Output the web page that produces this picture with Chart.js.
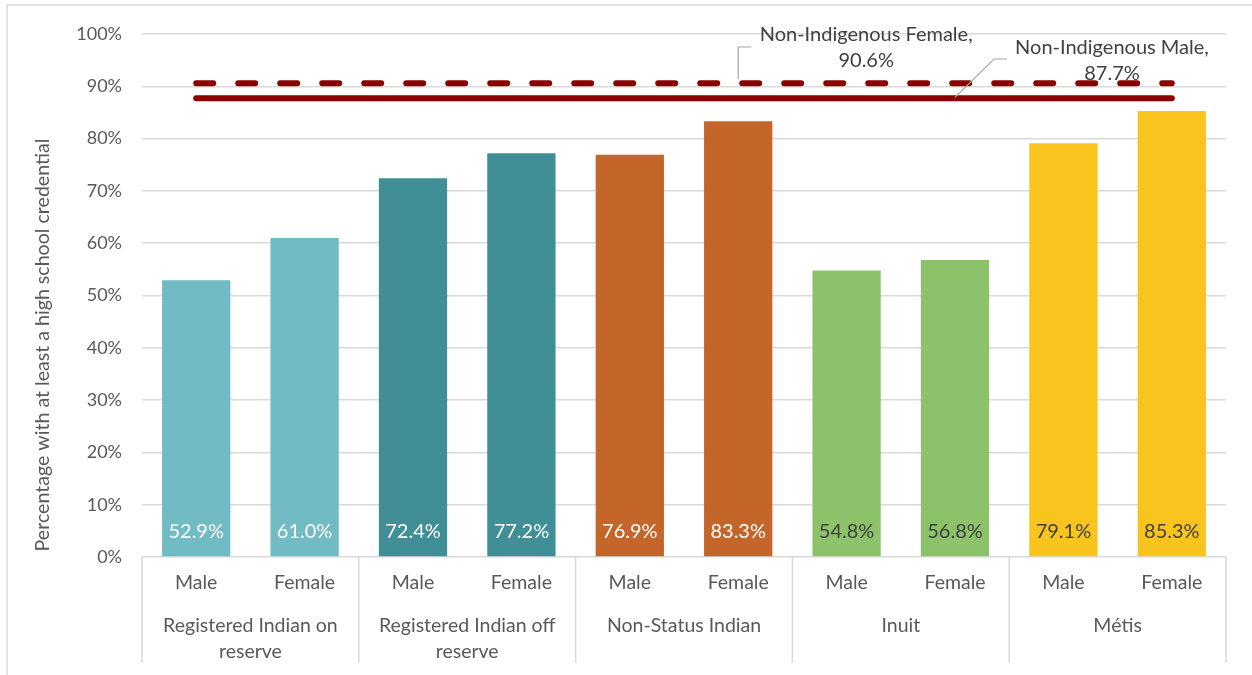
<!DOCTYPE html>
<html><head><meta charset="utf-8">
<script src="https://cdn.jsdelivr.net/npm/chart.js@4.4.1/dist/chart.umd.min.js"></script>
<style>html,body{margin:0;padding:0;background:#fff}#wrap{width:1252px;height:675px;position:relative}canvas{display:block}</style>
</head><body><div id="wrap"><canvas id="c" width="1252" height="675"></canvas></div>
<script>
// ---- data ----
const groups = [["Registered Indian on","reserve"],["Registered Indian off","reserve"],["Non-Status Indian"],["Inuit"],["Métis"]];
const sexes = ["Male","Female"];
const categories = ["RIon-M","RIon-F","RIoff-M","RIoff-F","NSI-M","NSI-F","Inuit-M","Inuit-F","Metis-M","Metis-F"];
const values = [52.9,61.0,72.4,77.2,76.9,83.3,54.8,56.8,79.1,85.3];
const barColors = ["#70BBC4","#70BBC4","#408F96","#408F96","#C4652A","#C4652A","#8CC269","#8CC269","#FAC41F","#FAC41F"];
const labelColors = ["#FFFFFF","#FFFFFF","#FFFFFF","#FFFFFF","#FFFFFF","#FFFFFF","#404040","#404040","#404040","#404040"];
const nonIndFemale = 90.6;
const nonIndMale = 87.7;
const femaleLabel = ["Non-Indigenous Female,", "90.6%"];
const maleLabel = ["Non-Indigenous Male,", "87.7%"];
const yTitle = "Percentage with at least a high school credential";

const FONT = "Lato, 'Noto Sans', sans-serif";
const TXT = "#595959";

const deco = {
  id: 'deco',
  beforeDraw(chart) {
    const ctx = chart.ctx;
    ctx.save();
    ctx.strokeStyle = '#D9D9D9';
    ctx.lineWidth = 1.5;
    ctx.beginPath();
    ctx.moveTo(7, 675); ctx.lineTo(7, 5); ctx.lineTo(1252, 5);
    ctx.stroke();
    ctx.restore();
  },
  afterDatasetsDraw(chart) {
    const ctx = chart.ctx;
    const xs = chart.scales.x, ys = chart.scales.y;
    const area = chart.chartArea;
    ctx.save();
    // bar value labels
    const bm = chart.getDatasetMeta(0);
    ctx.font = "20px " + FONT;
    ctx.textAlign = 'center';
    ctx.textBaseline = 'middle';
    bm.data.forEach((el, i) => {
      ctx.fillStyle = labelColors[i];
      ctx.fillText(values[i].toFixed(1) + '%', el.x, ys.getPixelForValue(0) - 25);
    });
    // category axis
    ctx.strokeStyle = '#D9D9D9';
    ctx.lineWidth = 1.5;
    const bounds = [area.left];
    for (let g = 1; g < groups.length; g++) {
      bounds.push((xs.getPixelForValue(2*g-1) + xs.getPixelForValue(2*g)) / 2);
    }
    bounds.push(area.right);
    bounds.forEach(b => {
      ctx.beginPath(); ctx.moveTo(b, area.bottom); ctx.lineTo(b, area.bottom + 106); ctx.stroke();
    });
    ctx.fillStyle = TXT;
    ctx.font = "19.5px " + FONT;
    categories.forEach((c, i) => {
      ctx.fillText(sexes[i % 2], xs.getPixelForValue(i), area.bottom + 26);
    });
    groups.forEach((lines, g) => {
      const cx = (bounds[g] + bounds[g+1]) / 2;
      lines.forEach((t, k) => ctx.fillText(t, cx, area.bottom + 69 + k * 26));
    });
    // y title
    ctx.save();
    ctx.translate(43, 345);
    ctx.rotate(-Math.PI/2);
    ctx.font = "19.6px " + FONT;
    ctx.fillText(yTitle, 0, 0);
    ctx.restore();
    // annotations
    ctx.strokeStyle = '#A6A6A6';
    ctx.lineWidth = 1.2;
    ctx.fillStyle = '#404040';
    ctx.font = "20px " + FONT;
    const fx = xs.getPixelForValue(5), fy = ys.getPixelForValue(nonIndFemale);
    ctx.beginPath(); ctx.moveTo(fx, fy - 4); ctx.lineTo(fx, 47); ctx.lineTo(fx + 13, 47); ctx.stroke();
    femaleLabel.forEach((t, k) => ctx.fillText(t, fx + 128, 35 + k * 26));
    const mx = xs.getPixelForValue(7), my = ys.getPixelForValue(nonIndMale);
    ctx.beginPath(); ctx.moveTo(mx, my - 1); ctx.lineTo(mx + 39, 59); ctx.lineTo(mx + 52, 59); ctx.stroke();
    maleLabel.forEach((t, k) => ctx.fillText(t, mx + 157, 48 + k * 26));
    ctx.restore();
  }
};

new Chart(document.getElementById('c'), {
  data: {
    labels: categories,
    datasets: [
      { type: 'bar', data: values, backgroundColor: barColors, borderWidth: 0,
        barPercentage: 0.63, categoryPercentage: 1, order: 2 },
      { type: 'line', data: [{x: categories[0], y: nonIndFemale}, {x: categories[categories.length - 1], y: nonIndFemale}],
        borderColor: '#8B0000', borderWidth: 6, borderDash: [17, 25], borderCapStyle: 'round',
        pointRadius: 0, order: 1 },
      { type: 'line', data: [{x: categories[0], y: nonIndMale}, {x: categories[categories.length - 1], y: nonIndMale}],
        borderColor: '#8B0000', borderWidth: 6, borderCapStyle: 'round',
        pointRadius: 0, order: 1 }
    ]
  },
  options: {
    responsive: false,
    devicePixelRatio: 1,
    animation: false,
    layout: { padding: { left: 0, right: 26, top: 34, bottom: 118 } },
    plugins: { legend: { display: false }, tooltip: { enabled: false } },
    scales: {
      x: { type: 'category', display: false, grid: { display: false }, ticks: { display: false }, border: { display: false } },
      y: {
        min: 0, max: 100,
        afterFit(s) { s.width = 142; },
        grid: { color: '#D9D9D9', lineWidth: 1.5, drawTicks: false },
        border: { display: false },
        ticks: { stepSize: 10, padding: 20, color: TXT, font: { family: FONT, size: 18 },
          callback: v => v + '%' }
      }
    }
  },
  plugins: [deco]
});
</script>
</body></html>
